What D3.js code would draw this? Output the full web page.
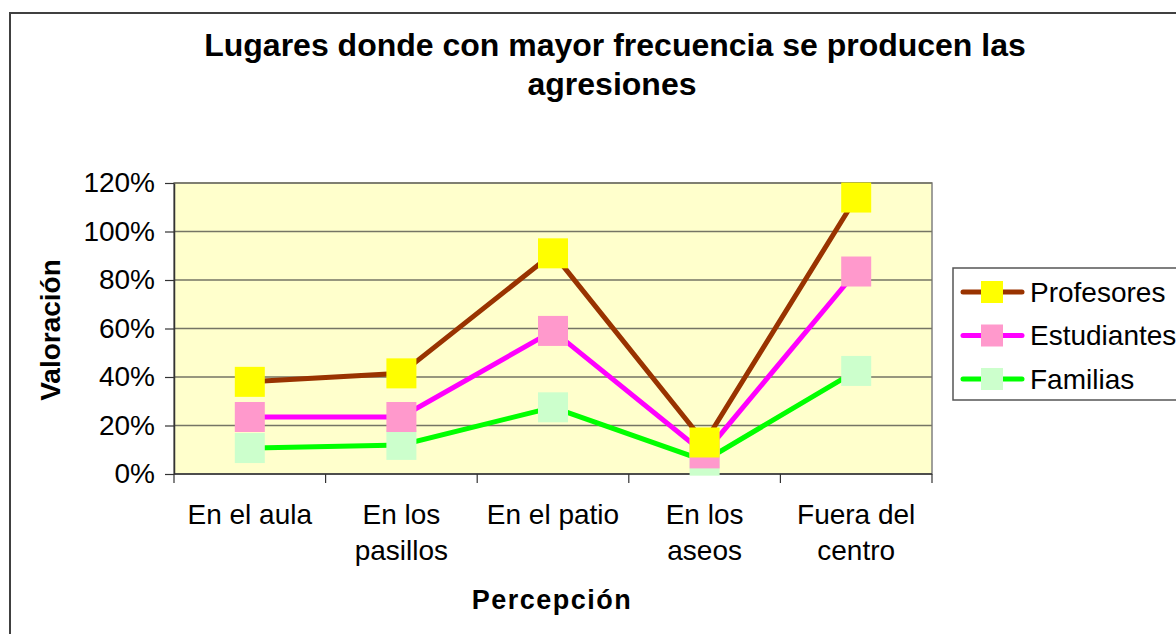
<!DOCTYPE html>
<html>
<head>
<meta charset="utf-8">
<script src="https://cdn.jsdelivr.net/npm/d3@7"></script>
<style>
  body { margin: 0; background: #fff; }
  svg { display: block; font-family: Arial, "Liberation Sans", sans-serif; }
</style>
</head>
<body>
<div id="chart"></div>
<script>
// data
const categories = ["En el aula", "En los pasillos", "En el patio", "En los aseos", "Fuera del centro"];
const catLabels = [["En el aula"], ["En los", "pasillos"], ["En el patio"], ["En los", "aseos"], ["Fuera del", "centro"]];
const profesores = [0.38, 0.415, 0.91, 0.13, 1.14];
const estudiantes = [0.235, 0.235, 0.59, 0.085, 0.835];
const familias = [0.107, 0.12, 0.275, 0.055, 0.425];
const yTicks = [0, 0.2, 0.4, 0.6, 0.8, 1.0, 1.2];

const series = [
    {name: "Profesores", values: profesores, line: "#993300", mark: "#ffff00"},
    {name: "Estudiantes", values: estudiantes, line: "#ff00ff", mark: "#ff99cc"},
    {name: "Familias", values: familias, line: "#00ff00", mark: "#ccffcc"}
];

let width = 1176, height = 634;
let plot = {left: 174, right: 932, top: 183, bottom: 474};

let svg = d3.select("#chart").append("svg")
    .attr("width", width)
    .attr("height", height);

// outer chart frame (cut off at right and bottom)
svg.append("rect")
    .attr("x", 10).attr("y", 13)
    .attr("width", 1200).attr("height", 700)
    .style("fill", "#fff")
    .style("stroke", "#404040")
    .style("stroke-width", 2);

let x = d3.scaleBand()
    .domain(categories)
    .range([plot.left, plot.right]);
let y = d3.scaleLinear()
    .domain([0, 1.2])
    .range([plot.bottom, plot.top]);
let cx = (c) => x(c) + x.bandwidth() / 2;

// plot background
svg.append("rect")
    .attr("x", plot.left).attr("y", plot.top)
    .attr("width", plot.right - plot.left)
    .attr("height", plot.bottom - plot.top)
    .style("fill", "#ffffcc")
    .style("stroke", "#808080")
    .style("stroke-width", 1.5);

// gridlines
svg.selectAll("line.grid")
    .data(yTicks.filter(t => t > 0))
    .enter()
    .append("line")
    .attr("class", "grid")
    .attr("x1", plot.left).attr("x2", plot.right)
    .attr("y1", d => y(d)).attr("y2", d => y(d))
    .style("stroke", "#757565")
    .style("stroke-width", 1.5);

// y axis
let yAxis = d3.axisLeft(y)
    .tickValues(yTicks)
    .tickFormat(d3.format(".0%"))
    .tickSizeInner(9)
    .tickSizeOuter(0)
    .tickPadding(10);
let gy = svg.append("g")
    .attr("transform", `translate(${plot.left},0)`)
    .call(yAxis);
gy.select(".domain").style("stroke", "#333").style("stroke-width", 1.5);
gy.selectAll(".tick line").style("stroke", "#333").style("stroke-width", 1.2);
gy.selectAll(".tick text")
    .style("font-size", "28px")
    .style("font-family", "Arial, 'Liberation Sans', sans-serif")
    .style("fill", "#000");

// x axis: ticks at category boundaries
let bounds = categories.map(c => x(c)).concat([plot.right]);
svg.append("line")
    .attr("x1", plot.left).attr("x2", plot.right)
    .attr("y1", plot.bottom).attr("y2", plot.bottom)
    .style("stroke", "#333").style("stroke-width", 1.5);
svg.selectAll("line.xtick")
    .data(bounds)
    .enter()
    .append("line")
    .attr("class", "xtick")
    .attr("x1", d => d).attr("x2", d => d)
    .attr("y1", plot.bottom).attr("y2", plot.bottom + 9)
    .style("stroke", "#333").style("stroke-width", 1.2);

categories.forEach((c, i) => {
    let t = svg.append("text")
        .attr("x", cx(c))
        .attr("y", 524)
        .attr("text-anchor", "middle")
        .style("font-size", "28px");
    catLabels[i].forEach((s, j) => {
        t.append("tspan")
            .attr("x", cx(c))
            .attr("dy", j == 0 ? 0 : 36)
            .text(s);
    });
});

// titles
svg.append("text")
    .attr("x", 615).attr("y", 56)
    .attr("text-anchor", "middle")
    .style("font-size", "32px").style("font-weight", "bold")
    .text("Lugares donde con mayor frecuencia se producen las");
svg.append("text")
    .attr("x", 612).attr("y", 95)
    .attr("text-anchor", "middle")
    .style("font-size", "32px").style("font-weight", "bold")
    .text("agresiones");

svg.append("text")
    .attr("x", 552).attr("y", 609)
    .attr("text-anchor", "middle")
    .style("font-size", "27px").style("font-weight", "bold")
    .style("letter-spacing", "1.5px")
    .text("Percepción");

svg.append("text")
    .attr("transform", "translate(60,330) rotate(-90)")
    .attr("text-anchor", "middle")
    .style("font-size", "28px").style("font-weight", "bold")
    .text("Valoración");

// series: drawn last-to-first so Profesores ends up on top
let line = d3.line()
    .x((d, i) => cx(categories[i]))
    .y(d => y(d));
let ms = 30;
series.slice().reverse().forEach(s => {
    svg.append("path")
        .datum(s.values)
        .attr("d", line)
        .style("fill", "none")
        .style("stroke", s.line)
        .style("stroke-width", 5);
    svg.selectAll(null)
        .data(s.values)
        .enter()
        .append("rect")
        .attr("x", (d, i) => cx(categories[i]) - ms / 2)
        .attr("y", d => y(d) - ms / 2)
        .attr("width", ms).attr("height", ms)
        .style("fill", s.mark);
});

// legend
let lg = svg.append("g");
lg.append("rect")
    .attr("x", 953).attr("y", 268)
    .attr("width", 260).attr("height", 132)
    .style("fill", "#fff")
    .style("stroke", "#555")
    .style("stroke-width", 1.5);
series.forEach((s, i) => {
    let ry = 292 + i * 43.5;
    lg.append("line")
        .attr("x1", 963).attr("x2", 1022)
        .attr("y1", ry).attr("y2", ry)
        .style("stroke", s.line)
        .style("stroke-width", 5)
        .style("stroke-linecap", "round");
    lg.append("rect")
        .attr("x", 981).attr("y", ry - 11)
        .attr("width", 22).attr("height", 22)
        .style("fill", s.mark);
    lg.append("text")
        .attr("x", 1030).attr("y", ry)
        .attr("dy", "0.35em")
        .style("font-size", "28px")
        .text(s.name);
});
</script>
</body>
</html>
